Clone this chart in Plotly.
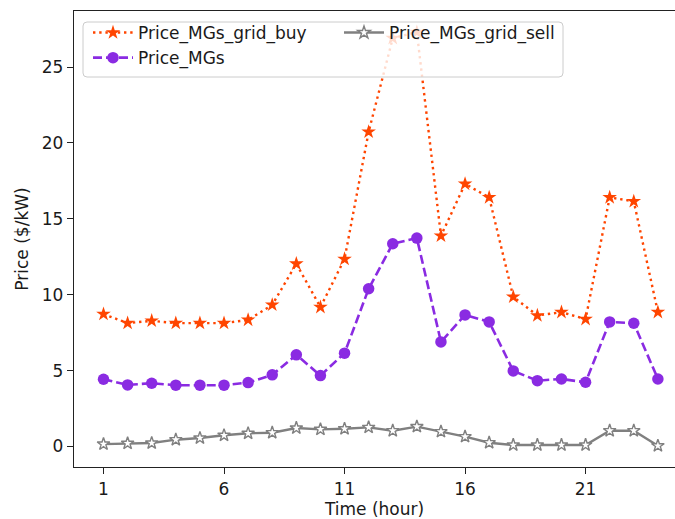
import plotly.graph_objects as go

hours = list(range(1, 25))
price_grid_buy = [8.72, 8.13, 8.28, 8.13, 8.13, 8.13, 8.34, 9.33, 12.04, 9.18, 12.35, 20.73,
                  26.9, 27.3, 13.88, 17.3, 16.41, 9.86, 8.63, 8.85, 8.39, 16.41, 16.15, 8.85]
price_mgs = [4.43, 4.06, 4.17, 4.04, 4.04, 4.04, 4.21, 4.72, 6.04, 4.67, 6.15, 10.39,
             13.36, 13.73, 6.89, 8.67, 8.21, 4.98, 4.34, 4.45, 4.23, 8.21, 8.12, 4.45]
price_grid_sell = [0.16, 0.21, 0.23, 0.45, 0.56, 0.74, 0.87, 0.91, 1.22, 1.13, 1.17, 1.26,
                   1.04, 1.31, 0.98, 0.65, 0.25, 0.10, 0.10, 0.10, 0.10, 1.04, 1.04, 0.05]
x_tickvals = [1, 6, 11, 16, 21]
y_tickvals = [0, 5, 10, 15, 20, 25]

FONT = "DejaVu Sans"
TXT = "#1a1a1a"
W, H = 675, 519
ML, MR, MT, MB = 74, 0, 11, 52
PW, PH = W - ML - MR, H - MT - MB


def px_x(p):
    return (p - ML) / PW


def px_y(p):
    return 1 - (p - MT) / PH


fig = go.Figure()
fig.add_trace(go.Scatter(
    x=hours, y=price_grid_buy, name="Price_MGs_grid_buy", mode="lines+markers",
    line=dict(color="#FF4500", width=2.4, dash="2.4px,3.8px"),
    marker=dict(symbol="star", size=11, color="#FF4500", line=dict(width=0)),
    legend="legend"))
fig.add_trace(go.Scatter(
    x=hours, y=price_mgs, name="Price_MGs", mode="lines+markers",
    line=dict(color="#8A2BE2", width=2.6, dash="9px,4px"),
    marker=dict(symbol="circle", size=11.5, color="#8A2BE2", line=dict(width=0)),
    legend="legend"))
fig.add_trace(go.Scatter(
    x=hours, y=price_grid_sell, name="Price_MGs_grid_sell", mode="lines+markers",
    line=dict(color="#808080", width=2.4),
    marker=dict(symbol="star", size=9.5, color="white", line=dict(width=1.4, color="#808080")),
    legend="legend2"))

# legend frame (matplotlib-style rounded box)
x0, x1 = px_x(83), px_x(563)
y0, y1 = px_y(77), px_y(22)
rx, ry = 4 / PW, 4 / PH
frame = (f"M{x0+rx},{y1} L{x1-rx},{y1} Q{x1},{y1} {x1},{y1-ry} L{x1},{y0+ry} "
         f"Q{x1},{y0} {x1-rx},{y0} L{x0+rx},{y0} Q{x0},{y0} {x0},{y0+ry} "
         f"L{x0},{y1-ry} Q{x0},{y1} {x0+rx},{y1} Z")

leg_common = dict(
    orientation="v", xanchor="left", yanchor="top",
    bgcolor="rgba(0,0,0,0)", borderwidth=0, itemwidth=40, tracegroupgap=0,
    font=dict(family=FONT, size=17, color=TXT),
)

fig.update_layout(
    width=W, height=H,
    margin=dict(l=ML, r=MR, t=MT, b=MB),
    plot_bgcolor="white", paper_bgcolor="white",
    font=dict(family=FONT, size=17, color=TXT),
    showlegend=True,
    legend=dict(x=px_x(88), y=px_y(15), **leg_common),
    legend2=dict(x=px_x(339), y=px_y(15), **leg_common),
    shapes=[dict(type="path", path=frame, xref="paper", yref="paper",
                 fillcolor="rgba(255,255,255,0.8)", line=dict(color="#cccccc", width=1),
                 layer="above")],
    xaxis=dict(
        range=[-0.224, 24.71], tickvals=x_tickvals, ticktext=[str(v) for v in x_tickvals],
        showline=True, linecolor="#222222", linewidth=1.3, mirror=True,
        ticks="outside", ticklen=6, tickwidth=1.3, tickcolor="#222222",
        showgrid=False, zeroline=False,
        title=dict(text="Time (hour)", standoff=6, font=dict(family=FONT, size=17)),
    ),
    yaxis=dict(
        range=[-1.35, 28.69], tickvals=y_tickvals, ticktext=[str(v) for v in y_tickvals],
        showline=True, linecolor="#222222", linewidth=1.3, mirror=False,
        ticks="outside", ticklen=6, tickwidth=1.3, tickcolor="#222222",
        showgrid=False, zeroline=False,
        title=dict(text="Price ($/kW)", standoff=8, font=dict(family=FONT, size=17)),
    ),
)

fig.write_html("out.html")
